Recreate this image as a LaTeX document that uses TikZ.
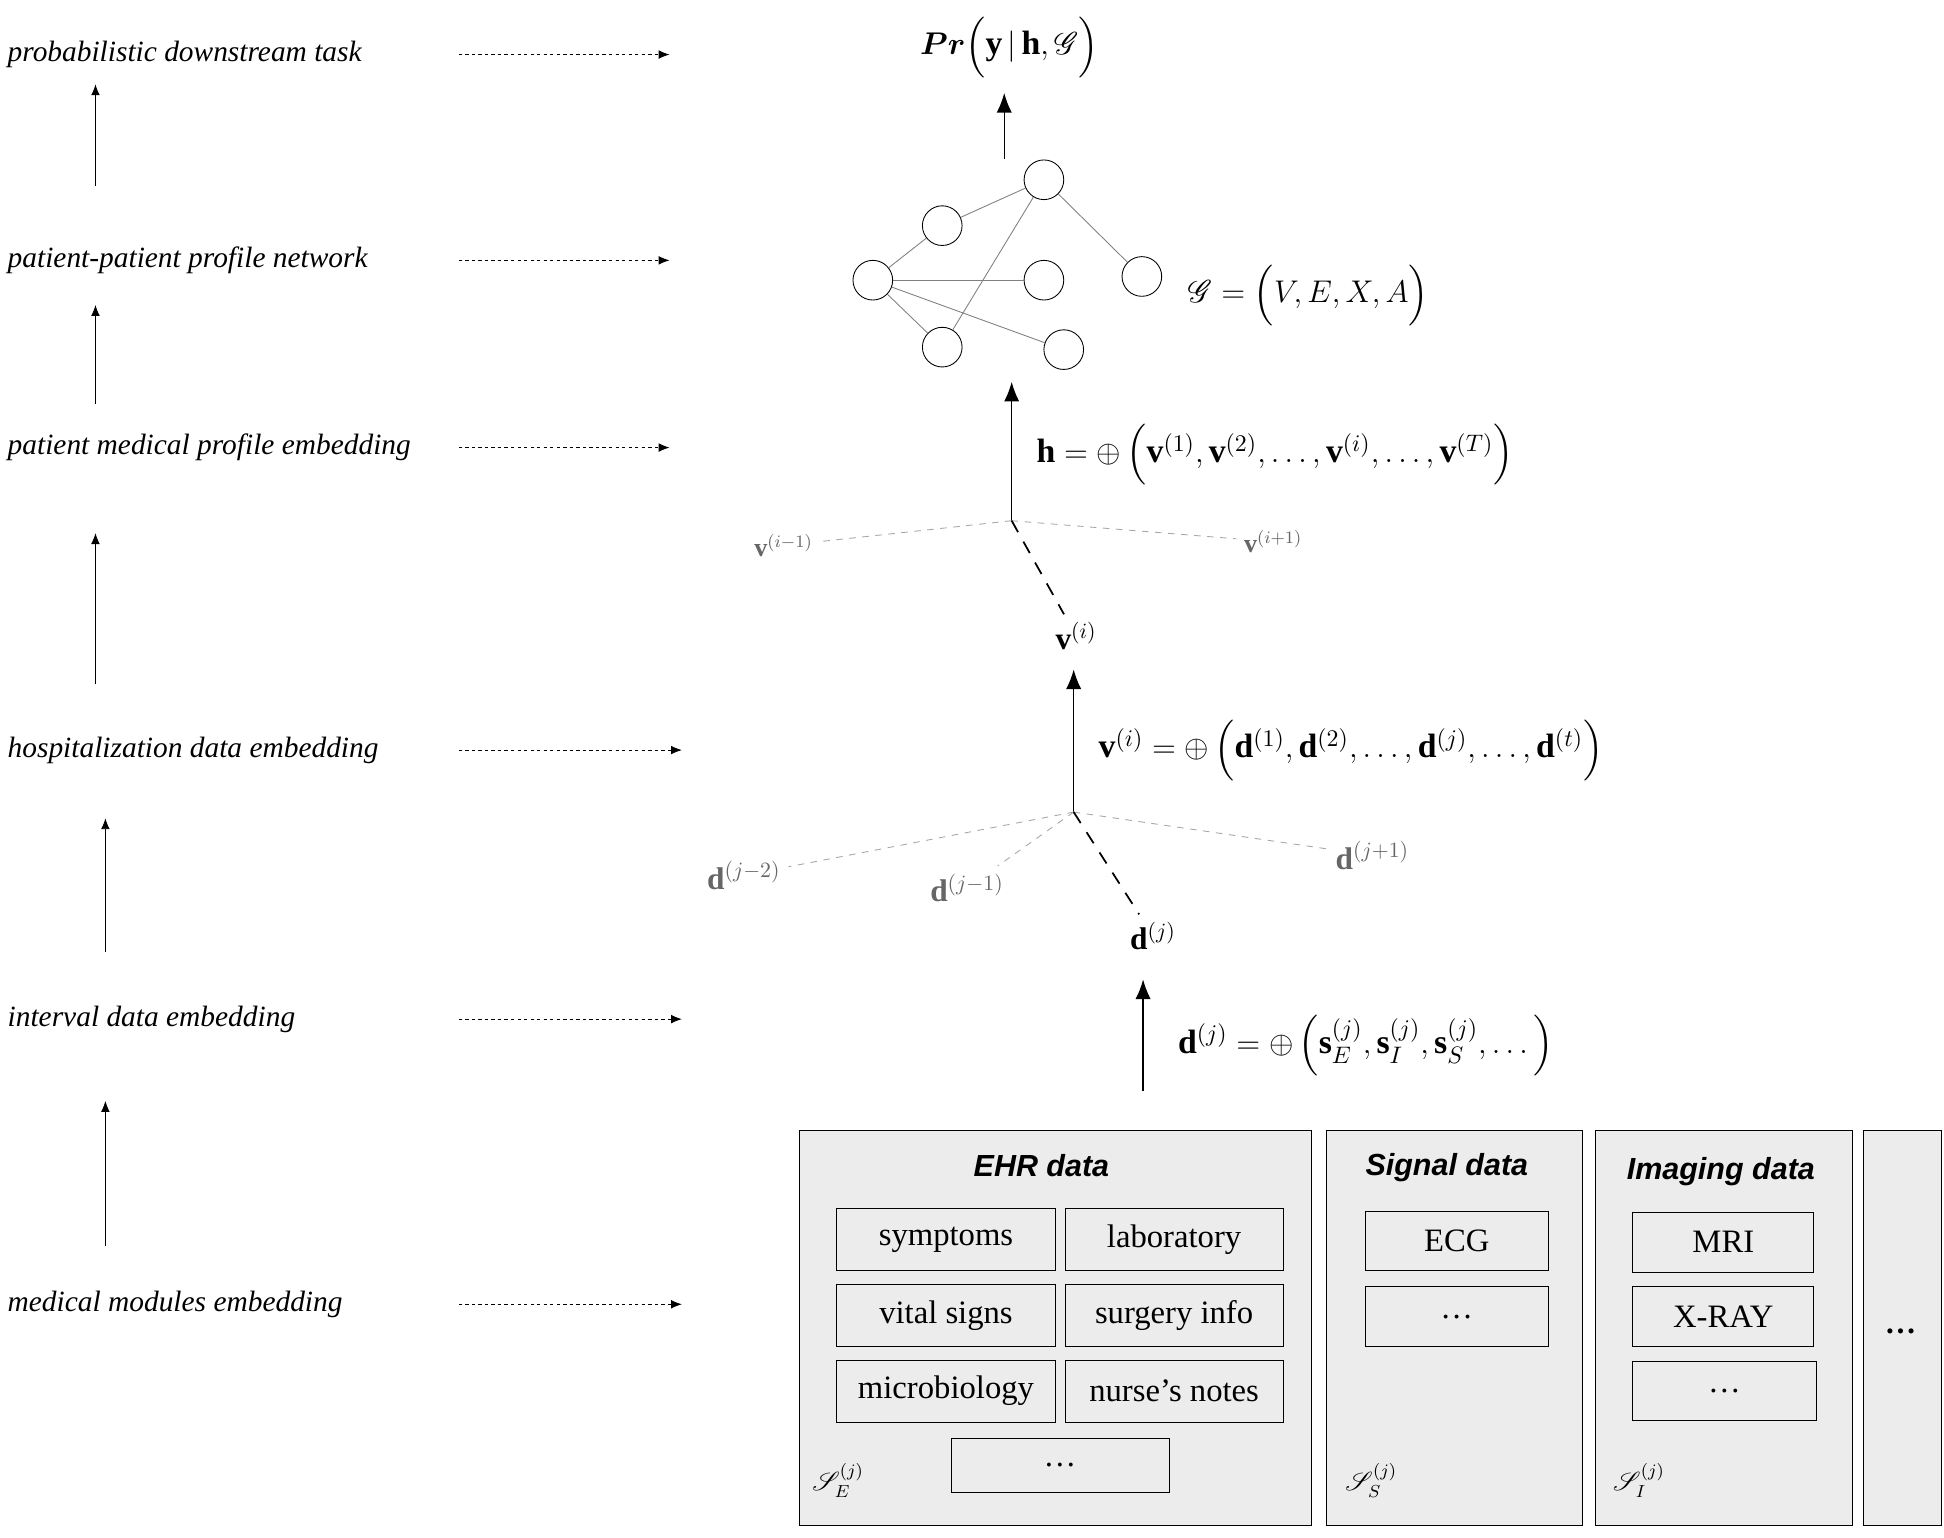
\documentclass[tikz,border=0pt]{standalone}
\usepackage{amsmath,amssymb,mathrsfs}
\usepackage{fontspec}
\setmainfont{Liberation Serif}
\newfontfamily\titlefont{Liberation Sans}
\usetikzlibrary{arrows.meta,positioning}
\tikzset{
	level/.style={anchor=west, font=\fontsize{13.5}{16}\selectfont\itshape},
	hint/.style={-{Latex[length=5pt,width=4pt]}, dash pattern=on 1.5pt off 1.5pt},
	up/.style={-{Latex[length=5pt,width=4pt]}},
	bigup/.style={-{Latex[length=9pt,width=7pt]}, semithick},
	formula/.style={anchor=west, font=\fontsize{15.5}{19}\selectfont},
	ball/.style={circle, draw, minimum size=32*0.02cm, inner sep=0pt},
	module/.style={draw, fill=gray!15},
	item/.style={draw, minimum width=176*0.02cm, minimum height=50*0.02cm, font=\fontsize{15}{18}\selectfont},
	title/.style={font=\fontsize{14}{17}\selectfont\titlefont\bfseries\itshape},
	faint/.style={gray!70, dashed},
	strong/.style={thick, dash pattern=on 6pt off 5pt}
}
\begin{document}
\begin{tikzpicture}[x=0.02cm, y=-0.02cm]
		\useasboundingbox (0,0) rectangle (1568,1240);
		% levels on the left
		\foreach \name/\y/\e/\txt in {task/44/540/probabilistic downstream task,
			net/210/540/patient-patient profile network,
			prof/361/540/patient medical profile embedding,
			hosp/605/550/hospitalization data embedding,
			intv/822/550/interval data embedding,
			mods/1052/550/medical modules embedding} {
			\node[level] (\name) at (0,\y) {\txt};
			\coordinate (\name s) at (370,\y);
			\coordinate (\name e) at (\e,\y);
			\draw[hint] (\name s) -- (\name e);
		}
		\foreach \x/\a/\b in {77/150/68, 77/326/246, 77/552/430, 85/768/660, 85/1005/888} {
			\coordinate (la) at (\x,\a);
			\coordinate (lb) at (\x,\b);
			\draw[up] (la) -- (lb);
		}

		% top of the stack
		\node[formula] (pr) at (736,38) {$\boldsymbol{Pr}\Big(\mathbf{y}\,|\,\mathbf{h},\mathscr{G}\Big)$};
		\coordinate (grtop) at (810,128);
		\coordinate (prbot) at (810,75);
		\draw[bigup] (grtop) -- (prbot);

		% patient network
		\node[ball] (g1) at (704,226) {};
		\node[ball] (g2) at (760,182) {};
		\node[ball] (g3) at (842,145) {};
		\node[ball] (g4) at (842,226) {};
		\node[ball] (g5) at (921,223) {};
		\node[ball] (g6) at (760,280) {};
		\node[ball] (g7) at (858,282) {};
		\foreach \a/\b in {g1/g2, g1/g4, g1/g6, g1/g7, g2/g3, g6/g3, g3/g5} {
			\draw[gray] (\a) -- (\b);
		}
		\node[formula] (gdef) at (952,238) {$\mathscr{G}=\Big(V,E,X,A\Big)$};

		% patient profile
		\coordinate (vj) at (816,420);
		\coordinate (vtop) at (816,308);
		\draw[bigup] (vj) -- (vtop);
		\node[formula] (hdef) at (830,367) {$\mathbf{h}=\oplus\,\Big(\mathbf{v}^{(1)},\mathbf{v}^{(2)},\ldots,\mathbf{v}^{(i)},\ldots,\mathbf{v}^{(T)}\Big)$};
		\node[gray!80!black, font=\large] (vm) at (632,440) {$\mathbf{v}^{(i-1)}$};
		\node[gray!80!black, font=\large] (vp) at (1027,437) {$\mathbf{v}^{(i+1)}$};
		\node[font=\Large] (vi) at (868,513) {$\mathbf{v}^{(i)}$};
		\draw[faint] (vj) -- (vm);
		\draw[faint] (vj) -- (vp);
		\draw[strong] (vj) -- (vi);

		% hospitalisation
		\coordinate (dj) at (866,655);
		\coordinate (dtop) at (866,540);
		\draw[bigup] (dj) -- (dtop);
		\node[formula] (vdef) at (880,605) {$\mathbf{v}^{(i)}=\oplus\,\Big(\mathbf{d}^{(1)},\mathbf{d}^{(2)},\ldots,\mathbf{d}^{(j)},\ldots,\mathbf{d}^{(t)}\Big)$};
		\node[gray!80!black, font=\Large] (dm2) at (600,706) {$\mathbf{d}^{(j-2)}$};
		\node[gray!80!black, font=\Large] (dm1) at (780,716) {$\mathbf{d}^{(j-1)}$};
		\node[gray!80!black, font=\Large] (dp1) at (1107,690) {$\mathbf{d}^{(j+1)}$};
		\node[font=\Large] (dcur) at (930,755) {$\mathbf{d}^{(j)}$};
		\draw[faint] (dj) -- (dm2);
		\draw[faint] (dj) -- (dm1);
		\draw[faint] (dj) -- (dp1);
		\draw[strong] (dj) -- (dcur);

		% interval
		\coordinate (mtop) at (922,880);
		\coordinate (ibot) at (922,790);
		\draw[bigup] (mtop) -- (ibot);
		\node[formula] (ddef) at (944,843) {$\mathbf{d}^{(j)}=\oplus\,\Big(\mathbf{s}_E^{(j)},\mathbf{s}_I^{(j)},\mathbf{s}_S^{(j)},\ldots\Big)$};

		% medical modules
		\draw[module] (645,912) rectangle (1058,1230);
		\draw[module] (1070,912) rectangle (1276,1230);
		\draw[module] (1287,912) rectangle (1494,1230);
		\draw[module] (1503,912) rectangle (1566,1230);
		\node[font=\Large\bfseries] (more) at (1533,1074) {\ldots};
		\node[title] (ehr) at (840,940) {EHR data};
		\node[title] (sig) at (1167,942) {Signal data};
		\node[title] (img) at (1388,945) {Imaging data};
		\node[item] (sym) at (763,1000) {symptoms};
		\node[item] (lab) at (947,1000) {laboratory};
		\node[item] (vit) at (763,1061) {vital signs};
		\node[item] (sur) at (947,1061) {surgery info};
		\node[item] (mic) at (763,1122) {microbiology};
		\node[item] (nur) at (947,1122) {nurse's notes};
		\node[item, minimum height=44*0.02cm] (ehrx) at (855,1182) {\ldots};
		\node[item, minimum width=148*0.02cm, minimum height=48*0.02cm] (ecg) at (1175,1001) {ECG};
		\node[item, minimum width=148*0.02cm, minimum height=48*0.02cm] (sigx) at (1175,1062) {\ldots};
		\node[item, minimum width=146*0.02cm, minimum height=48*0.02cm] (mri) at (1390,1002) {MRI};
		\node[item, minimum width=146*0.02cm, minimum height=48*0.02cm] (xr) at (1390,1062) {X-RAY};
		\node[item, minimum width=148*0.02cm, minimum height=47*0.02cm] (imgx) at (1391,1122) {\ldots};
		\node[font=\large] (se) at (676,1194) {$\mathscr{S}_E^{(j)}$};
		\node[font=\large] (ss) at (1106,1194) {$\mathscr{S}_S^{(j)}$};
		\node[font=\large] (si) at (1322,1194) {$\mathscr{S}_I^{(j)}$};
	\end{tikzpicture}
\end{document}
